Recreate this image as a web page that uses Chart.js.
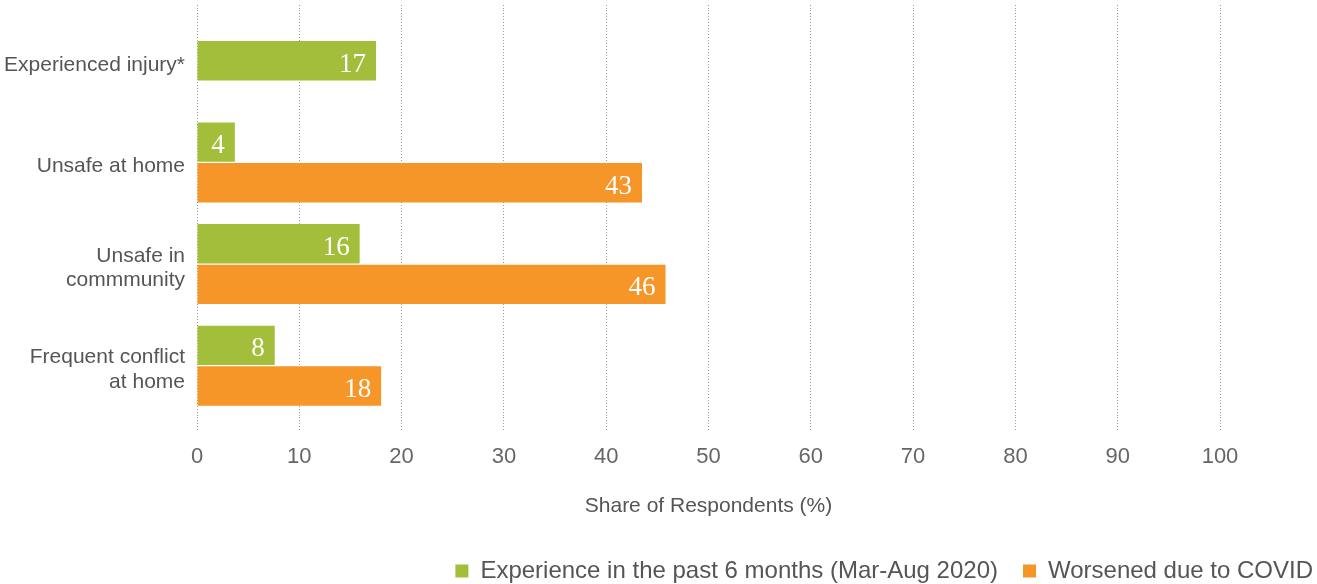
<!DOCTYPE html>
<html>
<head>
<meta charset="utf-8">
<script src="https://cdn.jsdelivr.net/npm/chart.js@4.4.1/dist/chart.umd.min.js"></script>
<style>
  html, body { margin: 0; padding: 0; background: #ffffff; }
  #wrap { width: 1317px; height: 584px; }
</style>
</head>
<body>
<div id="wrap"><canvas id="c" width="1317" height="584"></canvas></div>
<script>
const categories = [
  "Experienced injury*",
  "Unsafe at home",
  ["Unsafe in", "commmunity"],
  ["Frequent conflict", "at home"]
];
const seriesNames = ["Experience in the past 6 months (Mar-Aug 2020)", "Worsened due to COVID"];
const experienceValues = [17.5, 3.7, 15.9, 7.6];
const experienceLabels = ["17", "4", "16", "8"];
const covidValues = [null, 43.5, 45.8, 18.0];
const covidLabels = ["", "43", "46", "18"];
const xTicks = [0, 10, 20, 30, 40, 50, 60, 70, 80, 90, 100];
const axisTitle = "Share of Respondents (%)";

const GREEN = "#A2BE3A";
const ORANGE = "#F79628";
const GRID = "#9a9a9a";
const SANS = '"Liberation Sans", Arial, Helvetica, sans-serif';

const valueLabelPlugin = {
  id: "valueLabels",
  afterDatasetsDraw(chart) {
    const ctx = chart.ctx;
    const allLabels = [experienceLabels, covidLabels];
    ctx.save();
    ctx.font = '27px "Liberation Serif", "Times New Roman", serif';
    ctx.fillStyle = "#ffffff";
    ctx.textAlign = "right";
    ctx.textBaseline = "middle";
    chart.data.datasets.forEach((ds, di) => {
      const meta = chart.getDatasetMeta(di);
      meta.data.forEach((el, i) => {
        const lab = allLabels[di][i];
        if (ds.data[i] == null || !lab) return;
        ctx.fillText(lab, el.x - 10, el.y + 4);
      });
    });
    ctx.restore();
  }
};

// shift the legend box down/right after layout, without changing the plot area
const legendShiftPlugin = {
  id: "legendShift",
  afterLayout(chart) {
    const lg = chart.legend;
    if (!lg) return;
    lg.top += 9; lg.bottom += 9;
    lg.left += 21; lg.right += 21;
  }
};

Chart.defaults.font.family = SANS;

const barStyle = { barPercentage: 0.97, categoryPercentage: 0.8, maxBarThickness: 39.5, skipNull: true };

new Chart(document.getElementById("c"), {
  type: "bar",
  data: {
    labels: categories,
    datasets: [
      Object.assign({ label: seriesNames[0], data: experienceValues, backgroundColor: GREEN }, barStyle),
      Object.assign({ label: seriesNames[1], data: covidValues, backgroundColor: ORANGE }, barStyle)
    ]
  },
  options: {
    indexAxis: "y",
    responsive: false,
    animation: false,
    devicePixelRatio: 1,
    layout: { padding: { top: 5, left: 0, right: 0, bottom: 0 } },
    scales: {
      x: {
        type: "linear", position: "bottom", min: 0, max: 100,
        afterBuildTicks(s) { s.ticks = xTicks.map(v => ({ value: v })); },
        afterFit(s) { s.height = 108.5; s.paddingLeft = 0; s.paddingRight = 0; },
        border: { display: false, dash: [1, 2] },
        grid: {
          color: GRID, lineWidth: 1,
          drawTicks: true, tickLength: 15, tickColor: GRID, tickBorderDash: [1, 2], tickWidth: 1
        },
        ticks: { color: "#666666", font: { size: 22, family: SANS }, padding: 12 },
        title: { display: true, text: axisTitle, color: "#555555",
          font: { size: 21, family: SANS }, padding: { top: 0, bottom: 6.4 } }
      },
      xTop: {
        type: "linear", position: "top", min: 0, max: 100,
        afterBuildTicks(s) { s.ticks = xTicks.map(v => ({ value: v })); },
        afterFit(s) { s.height = 5; s.paddingLeft = 0; s.paddingRight = 0; },
        border: { display: false, dash: [1, 2] },
        grid: { drawOnChartArea: false, drawTicks: true, tickLength: 5,
          color: GRID, tickColor: GRID, tickBorderDash: [1, 2], tickWidth: 1 },
        ticks: { display: false }
      },
      y: {
        type: "category", position: "left",
        afterFit(s) { s.width = 197; s.paddingTop = 0; s.paddingBottom = 0; },
        border: { display: false },
        grid: { display: false, drawTicks: false },
        ticks: { color: "#555555", font: { size: 21, family: SANS, lineHeight: 1.15 },
          padding: 12, labelOffset: 4 }
      },
      yRight: {
        type: "category", position: "right", display: true,
        afterFit(s) { s.width = 97; s.paddingTop = 0; s.paddingBottom = 0; },
        border: { display: false },
        grid: { display: false, drawTicks: false },
        ticks: { display: false }
      }
    },
    plugins: {
      legend: {
        position: "bottom", align: "end",
        labels: { boxWidth: 13, boxHeight: 13, color: "#555555",
          font: { size: 24, family: SANS }, padding: 25 }
      },
      tooltip: { enabled: false },
      title: { display: false }
    }
  },
  plugins: [valueLabelPlugin, legendShiftPlugin]
});
</script>
</body>
</html>
